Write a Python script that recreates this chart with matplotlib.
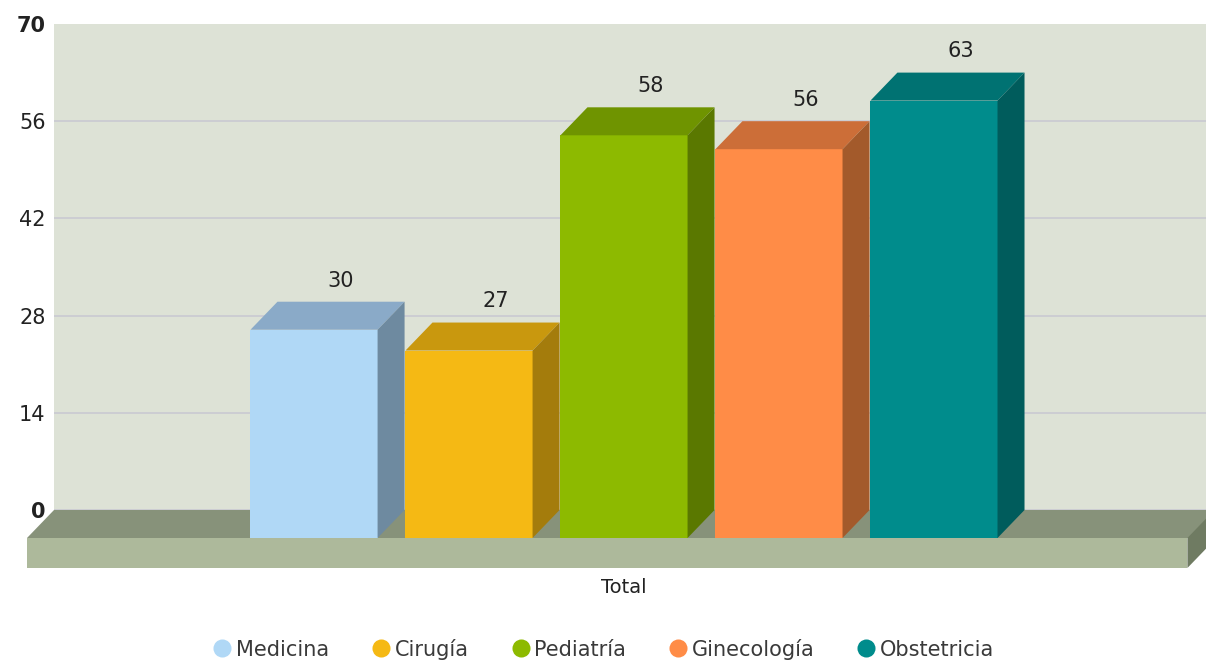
import matplotlib
matplotlib.use("Agg")
import matplotlib.pyplot as plt
from matplotlib.patches import Polygon
from matplotlib.lines import Line2D

# data
categories = ["Medicina", "Cirugía", "Pediatría", "Ginecología", "Obstetricia"]
values = [30, 27, 58, 56, 63]
yticks = [0, 14, 28, 42, 56, 70]
group_label = "Total"

# front / side / top shades per bar
front_colors = ["#b0d8f6", "#f5b914", "#8dba00", "#ff8c47", "#008c8c"]
side_colors = ["#6e8aa0", "#a47c0c", "#5a7800", "#a35a2b", "#005c5c"]
top_colors = ["#8aaac8", "#c9980e", "#6f9400", "#cc6e38", "#007272"]

W, H = 1206, 662
fig = plt.figure(figsize=(W / 100, H / 100), dpi=100)
ax = fig.add_axes([54 / W, (H - 510) / H, (W - 54) / W, (510 - 24) / H])

ax.set_facecolor("#dde2d6")
ax.set_ylim(0, 70)
x0, x1 = -1.852, 5.581
ax.set_xlim(x0, x1)
for s in ax.spines.values():
    s.set_visible(False)

ax.set_yticks(yticks)
ax.set_yticklabels([str(t) for t in yticks], fontsize=15, color="#222222")
for lab, t in zip(ax.get_yticklabels(), yticks):
    if t in (0, 70):
        lab.set_fontweight("bold")
ax.tick_params(axis="y", length=0, pad=6)
ax.set_xticks([])
ax.yaxis.grid(True, color="#c9c9d2", linewidth=1.2)
ax.get_ygridlines()[-1].set_visible(False)
ax.set_axisbelow(True)

# 3D offsets in data units
dx = 27 / 155
dy = 28 * 70 / 486
slab = 30 * 70 / 486
w = 0.82

# floor top and slab
floor = Polygon([(x0, 0), (x1 + 0.2, 0), (x1 + 0.2 - dx, -dy), (x0 - dx, -dy)],
                closed=True, facecolor="#87927a", edgecolor="none", clip_on=False, zorder=2)
ax.add_patch(floor)
xr = x1 - 0.12
ax.add_patch(Polygon([(x0 - dx, -dy), (xr, -dy), (xr, -dy - slab), (x0 - dx, -dy - slab)],
                     closed=True, facecolor="#adb99b", edgecolor="none", clip_on=False, zorder=3))
ax.add_patch(Polygon([(xr, -dy), (xr + dx, 0), (xr + dx, -slab), (xr, -dy - slab)],
                     closed=True, facecolor="#6f7b62", edgecolor="none", clip_on=False, zorder=3))

xs = list(range(len(values)))
for i, (x, v) in enumerate(zip(xs, values)):
    z = 4 + i
    ax.bar(x - dx, v, bottom=-dy, width=w, color=front_colors[i], clip_on=False, zorder=z)
    l, r = x - w / 2, x + w / 2
    ax.add_patch(Polygon([(l - dx, v - dy), (r - dx, v - dy), (r, v), (l, v)], closed=True,
                         facecolor=top_colors[i], edgecolor="none", clip_on=False, zorder=z))
    ax.add_patch(Polygon([(r - dx, v - dy), (r, v), (r, 0), (r - dx, -dy)], closed=True,
                         facecolor=side_colors[i], edgecolor="none", clip_on=False, zorder=z))
    ax.text(x, v + 1.6, str(v), ha="center", va="bottom", fontsize=15, color="#222222", zorder=20)

ax.text(sum(xs) / len(xs) - dx, -11.2, group_label, ha="center", va="center",
        fontsize=14, color="#222222", clip_on=False)

handles = [Line2D([], [], marker="o", linestyle="none", markersize=13,
                  markerfacecolor=c, markeredgecolor="none") for c in front_colors]
fig.legend(handles, categories, loc="center", bbox_to_anchor=(0.5, (H - 649) / H), ncol=5,
           frameon=False, fontsize=15, handletextpad=0.15, columnspacing=2.0,
           handlelength=1.0, labelcolor="#3a3a3a")

fig.savefig("out.png", dpi=100)
